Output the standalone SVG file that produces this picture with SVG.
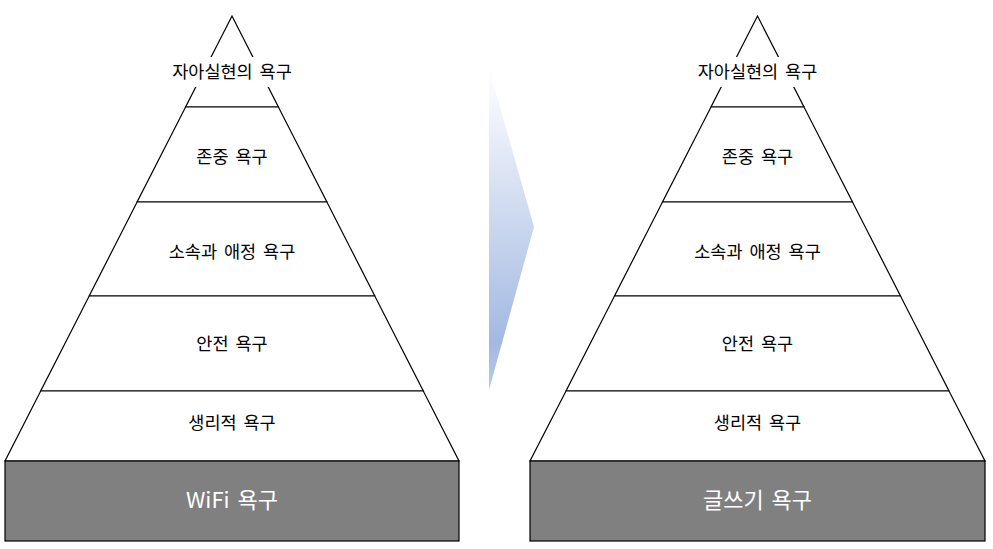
<svg xmlns="http://www.w3.org/2000/svg" width="993" height="549" viewBox="0 0 993 549">
<defs>
<linearGradient id="arrowGrad" x1="0" y1="0" x2="0" y2="1">
<stop offset="0" stop-color="#ffffff"/>
<stop offset="0.85" stop-color="#a3b9e2"/>
<stop offset="1" stop-color="#b8c9ea"/>
</linearGradient>
<style>
.tier{fill:#ffffff;stroke:#000000;stroke-width:1.2;stroke-linejoin:miter}
.base{fill:#808080;stroke:#000000;stroke-width:1.2}
.lbl{font-family:"Malgun Gothic","Noto Sans CJK KR",sans-serif;font-size:17.5px;word-spacing:3px;fill:#000000;text-anchor:middle}
.blbl{font-family:"Malgun Gothic","Noto Sans CJK KR",sans-serif;font-size:22px;word-spacing:3px;fill:#ffffff;text-anchor:middle}
.mask{fill:#ffffff}
</style>
</defs>
<rect width="993" height="549" fill="#ffffff"/>

<g id="left-pyramid">
<g id="L-self"><polygon class="tier" points="232,16 185.6,107 278.4,107"/><rect class="mask" x="166" y="57" width="132" height="30"/><text class="lbl" x="232" y="78">자아실현의 욕구</text></g>
<g id="L-esteem"><polygon class="tier" points="185.6,107 278.4,107 326.9,202 137.1,202"/><text class="lbl" x="232" y="163">존중 욕구</text></g>
<g id="L-belong"><polygon class="tier" points="137.1,202 326.9,202 374.8,296 89.2,296"/><text class="lbl" x="232" y="258">소속과 애정 욕구</text></g>
<g id="L-safety"><polygon class="tier" points="89.2,296 374.8,296 423.3,391 40.7,391"/><text class="lbl" x="232" y="350">안전 욕구</text></g>
<g id="L-physio"><polygon class="tier" points="40.7,391 423.3,391 459,461 5,461"/><text class="lbl" x="232" y="429">생리적 욕구</text></g>
<g id="L-base"><rect class="base" x="5" y="461" width="454" height="80"/><text class="blbl" x="232" y="508">WiFi 욕구</text></g>
</g>

<g id="connectors">
<polygon id="arrow" points="489,68 534,227 489,390" fill="url(#arrowGrad)"/>
</g>

<g id="right-pyramid">
<g id="R-self"><polygon class="tier" points="757.5,16 711,107 804,107"/><rect class="mask" x="691" y="57" width="133" height="30"/><text class="lbl" x="757.5" y="78">자아실현의 욕구</text></g>
<g id="R-esteem"><polygon class="tier" points="711,107 804,107 852.5,202 662.5,202"/><text class="lbl" x="757.5" y="163">존중 욕구</text></g>
<g id="R-belong"><polygon class="tier" points="662.5,202 852.5,202 900.5,296 614.5,296"/><text class="lbl" x="757.5" y="258">소속과 애정 욕구</text></g>
<g id="R-safety"><polygon class="tier" points="614.5,296 900.5,296 949,391 566,391"/><text class="lbl" x="757.5" y="350">안전 욕구</text></g>
<g id="R-physio"><polygon class="tier" points="566,391 949,391 985,461 530,461"/><text class="lbl" x="757.5" y="429">생리적 욕구</text></g>
<g id="R-base"><rect class="base" x="530" y="461" width="455" height="80"/><text class="blbl" x="757.5" y="508">글쓰기 욕구</text></g>
</g>
</svg>
